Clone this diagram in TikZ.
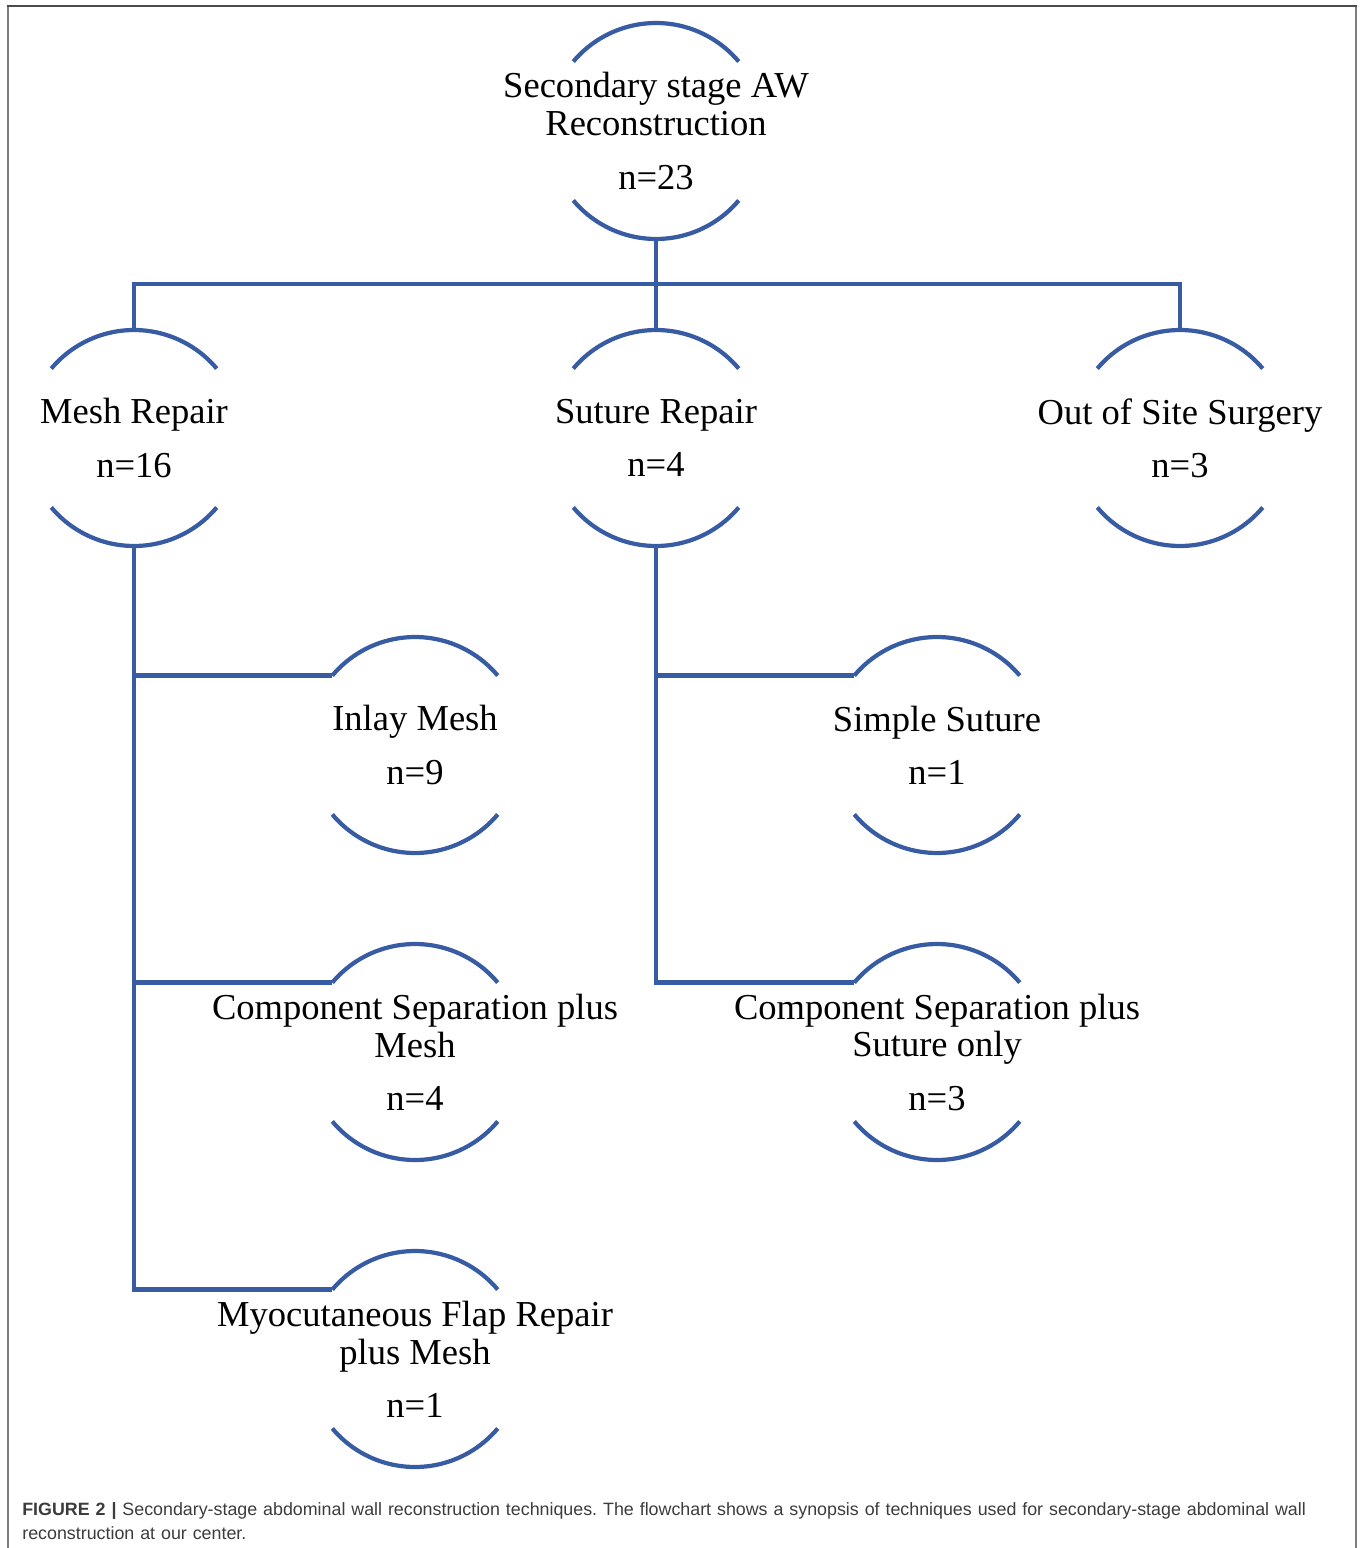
\documentclass[tikz,border=0pt]{standalone}
\usepackage{fontspec}
\setmainfont{Liberation Serif}
\newfontfamily\capfont{Liberation Sans}
\definecolor{wireblue}{RGB}{56,92,164}
\definecolor{framegray}{RGB}{125,125,125}
\definecolor{captext}{RGB}{60,60,60}

\begin{document}
\begin{tikzpicture}[x=0.02cm, y=0.02cm,
  ring/.style={circle, minimum size=4.32cm, inner sep=0pt, outer sep=0pt},
  txt/.style={font=\fontsize{20.8}{21.6}\selectfont, align=center, inner sep=0pt},
  wire/.style={draw=wireblue, line width=2.4pt}]

  \useasboundingbox (0,0) rectangle (1362,-1548);

  % frame
  \draw[framegray, line width=1.3pt] (8,-1548) -- (8,-6);
  \draw[framegray, line width=1.3pt] (1356,-1548) -- (1356,-6);
  \draw[black!70, line width=1.1pt] (7,-6) -- (1357,-6);

  % top node
  \node[ring, label={[txt]center:{Secondary stage AW\\Reconstruction\\[8.6pt]n=23}}] (root) at (656,-131) {};

  % first level
  \node[ring, label={[txt]center:{Mesh Repair\\[8.6pt]n=16}}] (mesh) at (134,-438) {};
  \node[ring, label={[txt]center:{Suture Repair\\[8.6pt]n=4}}] (suture) at (656,-438) {};
  \node[ring, label={[txt]center:{Out of Site Surgery\\[8.6pt]n=3}}] (outsite) at (1180,-438) {};

  % mesh branches
  \node[ring, label={[txt]center:{Inlay Mesh\\[8.6pt]n=9}}] (inlay) at (415,-745) {};
  \node[ring, label={[txt]center:{Component Separation plus\\Mesh\\[8.6pt]n=4}}] (csmesh) at (415,-1052) {};
  \node[ring, label={[txt]center:{Myocutaneous Flap Repair\\plus Mesh\\[8.6pt]n=1}}] (flap) at (415,-1359) {};

  % suture branches
  \node[ring, label={[txt]center:{Simple Suture\\[8.6pt]n=1}}] (simple) at (937,-745) {};
  \node[ring, label={[txt]center:{Component Separation plus\\Suture only\\[8.6pt]n=3}}] (cssuture) at (937,-1052) {};

  % arcs round every node
  \foreach \n in {root, mesh, suture, outsite, inlay, csmesh, flap, simple, cssuture} {
    \draw[wire] (\n.140) arc[start angle=140, end angle=40, radius=108];
    \draw[wire] (\n.220) arc[start angle=220, end angle=320, radius=108];
  }

  % connectors
  \draw[wire] (root.south) -- (suture.north);
  \path (root.south) -- ++(0,-45) coordinate (fork);
  \draw[wire] (mesh.north) |- (fork) -| (outsite.north);

  \draw[wire] (mesh.south) |- (flap.140);
  \foreach \b in {inlay, csmesh}
    \draw[wire] (mesh.south |- \b.140) -- (\b.140);

  \draw[wire] (suture.south) |- (cssuture.140);
  \draw[wire] (suture.south |- simple.140) -- (simple.140);

  % caption
  \node[anchor=base west, inner sep=0pt, text width=1330*0.02cm, align=left,
    font=\capfont\fontsize{10.15}{14.2}\selectfont\frenchspacing, text=captext] (caption) at (22,-1515)
    {\textbf{FIGURE 2 |} Secondary-stage abdominal wall reconstruction techniques. The flowchart shows a synopsis of techniques used for secondary-stage abdominal wall\\reconstruction at our center.};
\end{tikzpicture}
\end{document}
